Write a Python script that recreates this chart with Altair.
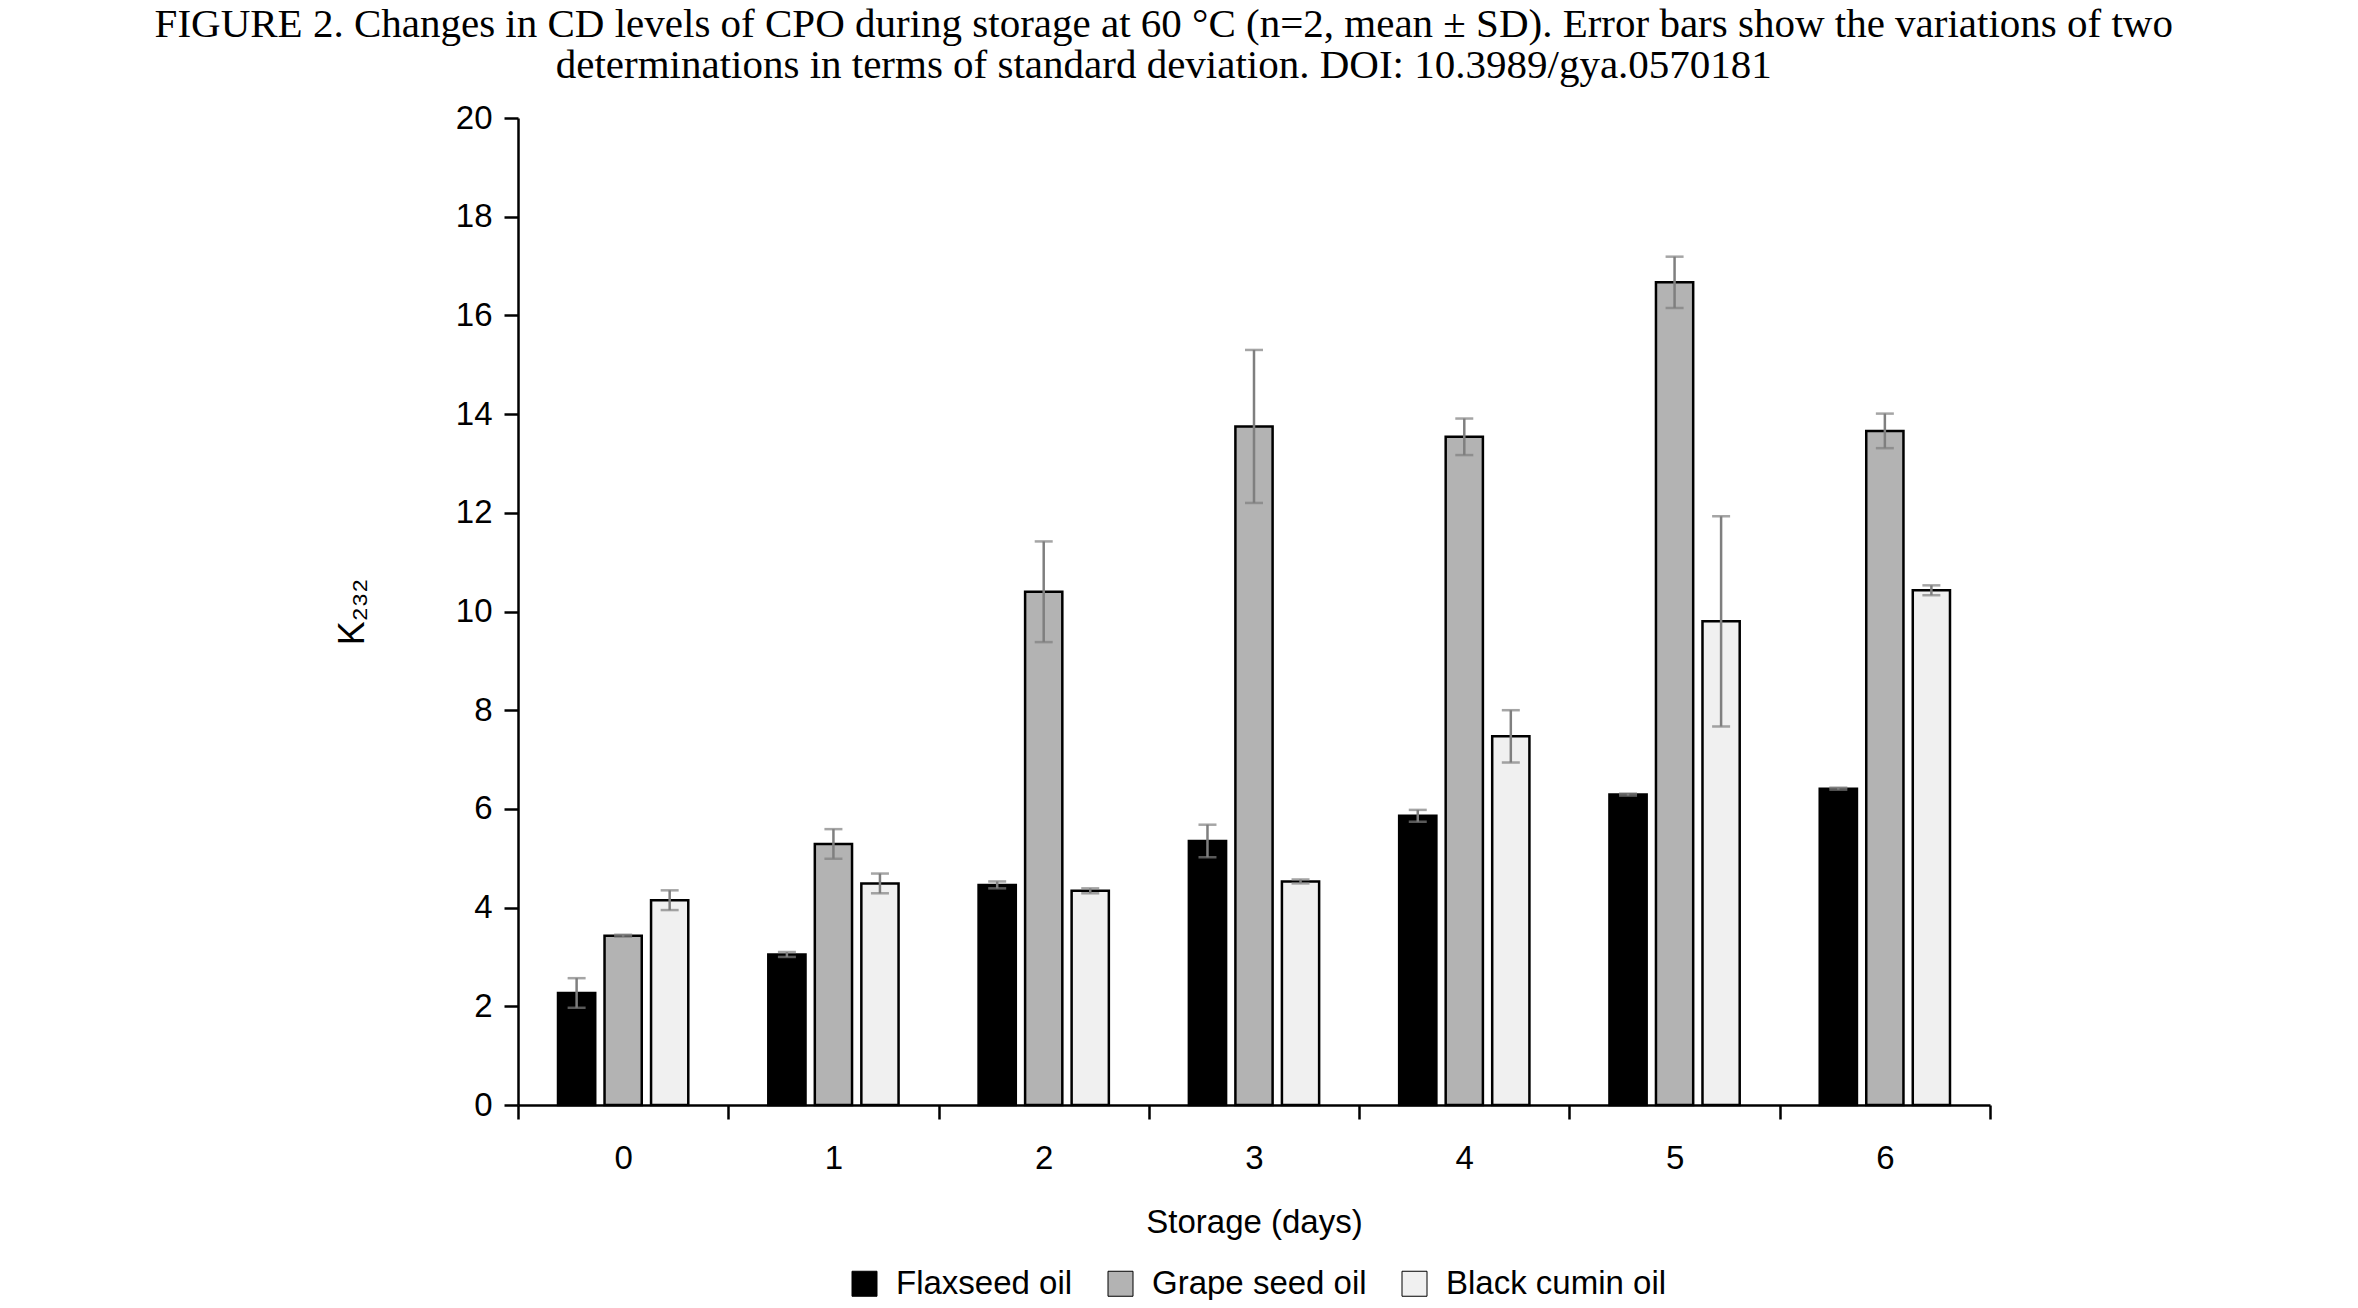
import altair as alt
import pandas as pd

days = ["0", "1", "2", "3", "4", "5", "6"]
oils = ["Flaxseed oil", "Grape seed oil", "Black cumin oil"]
flax = [2.27, 3.05, 4.46, 5.35, 5.86, 6.29, 6.41]
flax_sd = [0.30, 0.05, 0.07, 0.33, 0.12, 0.02, 0.02]
grape = [3.43, 5.29, 10.40, 13.75, 13.54, 16.67, 13.66]
grape_sd = [0.02, 0.30, 1.02, 1.55, 0.37, 0.52, 0.35]
cumin = [4.15, 4.49, 4.34, 4.53, 7.47, 9.80, 10.43]
cumin_sd = [0.20, 0.20, 0.05, 0.04, 0.53, 2.13, 0.10]
colors = ["#000000", "#b3b3b3", "#f0f0f0"]
y_ticks = [0, 2, 4, 6, 8, 10, 12, 14, 16, 18, 20]

rows = []
for oil, vals, sds in zip(oils, [flax, grape, cumin], [flax_sd, grape_sd, cumin_sd]):
    for d, v, s in zip(days, vals, sds):
        rows.append({"day": d, "oil": oil, "value": v, "sd": s,
                     "lo": v - s, "hi": v + s})
df = pd.DataFrame(rows)

FONT = "Liberation Sans"

x_enc = alt.X("day:N", sort=days,
              scale=alt.Scale(paddingInner=0, paddingOuter=0),
              axis=alt.Axis(title="Storage (days)", labelAngle=0, tickBand="extent",
                            labelPadding=23, titlePadding=31))
xoff = alt.XOffset("oil:N", sort=oils,
                   scale=alt.Scale(domain=oils, paddingInner=0.2, paddingOuter=0.86))

base = alt.Chart(df)

bars = base.mark_bar(stroke="black", strokeWidth=2.5).encode(
    x=x_enc,
    xOffset=xoff,
    y=alt.Y("value:Q", scale=alt.Scale(domain=[0, 20], nice=False),
            axis=alt.Axis(title="K₂₃₂", values=y_ticks, labelPadding=12,
                          titlePadding=84)),
    fill=alt.Fill("oil:N", sort=oils,
                  scale=alt.Scale(domain=oils, range=colors),
                  legend=alt.Legend(title=None, orient="none", legendX=330, legendY=1149,
                                    direction="horizontal", columns=3,
                                    symbolType="square", symbolSize=625,
                                    symbolStrokeColor="black", symbolStrokeWidth=1,
                                    labelFontSize=33, labelFont=FONT, labelColor="black",
                                    labelLimit=500, labelOffset=15, columnPadding=31)),
)

err = base.mark_rule(color="#7f7f7f", strokeWidth=2.5).encode(
    x=alt.X("day:N", sort=days), xOffset=xoff,
    y="lo:Q", y2="hi:Q")
cap_hi = base.mark_tick(color="#7f7f7f", thickness=2.5, size=18, orient="horizontal").encode(
    x=alt.X("day:N", sort=days), xOffset=xoff, y="hi:Q")
cap_lo = base.mark_tick(color="#7f7f7f", thickness=2.5, size=18, orient="horizontal").encode(
    x=alt.X("day:N", sort=days), xOffset=xoff, y="lo:Q")

title_lines = [
    "FIGURE 2. Changes in CD levels of CPO during storage at 60 °C (n=2, mean ± SD). Error bars show the variations of two",
    "determinations in terms of standard deviation. DOI: 10.3989/gya.0570181",
]

chart = alt.layer(bars, err, cap_hi, cap_lo).properties(
    width=1472, height=987,
    autosize=alt.AutoSizeParams(type="none"),
    padding={"left": 510, "top": 110, "right": 360, "bottom": 195},
    title=alt.TitleParams(text=title_lines, font="Liberation Serif", fontSize=41,
                          lineHeight=41, fontWeight="normal", color="black",
                          anchor="middle", frame="bounds", offset=-17, dx=1,
                          baseline="alphabetic"),
).configure_view(stroke=None).configure_axis(
    domainColor="black", domainWidth=2.5, tickColor="black", tickWidth=2.5,
    tickSize=14, labelFont=FONT, labelFontSize=33, labelColor="black",
    titleFont=FONT, titleFontSize=33, titleFontWeight="normal", titleColor="black",
    grid=False,
).configure_axisY(titleFontSize=36)

chart.save("out.html", embed_options={"renderer": "svg", "actions": False})
